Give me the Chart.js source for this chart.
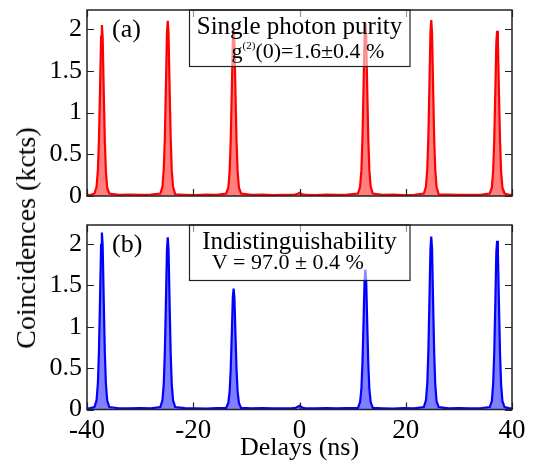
<!DOCTYPE html>
<html>
<head>
<meta charset="utf-8">
<script src="https://cdn.jsdelivr.net/npm/chart.js@4.4.1/dist/chart.umd.min.js"></script>
<style>
  body { margin: 0; background: #fff; width: 533px; height: 461px; position: relative; overflow: hidden; }
  canvas { position: absolute; left: 0; }
  #chart-a { top: 0; }
  #chart-b { top: 215px; }
  #ylabel {
    position: absolute; left: 26px; top: 238px;
    transform: translate(-50%, -50%) rotate(-90deg);
    font: 28px "Liberation Serif", serif; white-space: nowrap; color: #000;
  }
</style>
</head>
<body>
<canvas id="chart-a" width="533" height="215"></canvas>
<canvas id="chart-b" width="533" height="252"></canvas>
<div id="ylabel">Coincidences (kcts)</div>
<script>
// delay axis (ns), shared by both histograms
const delays = [
  -40, -39.4,
  -38.6, -38.2, -37.95, -37.75, -37.55, -37.35, -37.2, -37.05, -36.85, -36.65, -36.45, -36.2, -35.8,
  -34, -32, -30, -28,
  -26.2, -25.8, -25.55, -25.35, -25.15, -24.95, -24.8, -24.65, -24.45, -24.25, -24.05, -23.8, -23.4,
  -21.6, -19.6, -17.6, -15.6,
  -13.8, -13.4, -13.15, -12.95, -12.75, -12.55, -12.4, -12.25, -12.05, -11.85, -11.65, -11.4, -11.0,
  -9, -7, -5, -3,
  -1.4, -1.0, -0.75, -0.55, -0.35, -0.15, 0, 0.15, 0.35, 0.55, 0.75, 1.0, 1.4,
  3, 5, 7, 9,
  11.0, 11.4, 11.65, 11.85, 12.05, 12.25, 12.4, 12.55, 12.75, 12.95, 13.15, 13.4, 13.8,
  15.6, 17.6, 19.6, 21.6,
  23.4, 23.8, 24.05, 24.25, 24.45, 24.65, 24.8, 24.95, 25.15, 25.35, 25.55, 25.8, 26.2,
  28, 30, 32, 34,
  35.8, 36.2, 36.45, 36.65, 36.85, 37.05, 37.2, 37.35, 37.55, 37.75, 37.95, 38.2, 38.6,
  39.4, 40
];

// (a) single photon purity, kcts
const countsA = [
  0.015, 0.012,
  0.03, 0.11, 0.31, 0.68, 1.27, 1.91, 2.05, 1.90, 1.26, 0.67, 0.30, 0.10, 0.03,
  0.014, 0.018, 0.013, 0.016,
  0.03, 0.11, 0.32, 0.69, 1.30, 1.95, 2.10, 1.94, 1.29, 0.70, 0.31, 0.11, 0.02,
  0.015, 0.012, 0.017, 0.014,
  0.03, 0.10, 0.30, 0.66, 1.24, 1.86, 2.00, 1.85, 1.23, 0.65, 0.30, 0.10, 0.03,
  0.013, 0.016, 0.012, 0.015,
  0.015, 0.016, 0.018, 0.022, 0.027, 0.033, 0.038, 0.032, 0.026, 0.021, 0.018, 0.016, 0.015,
  0.012, 0.016, 0.014, 0.017,
  0.03, 0.11, 0.31, 0.69, 1.29, 1.93, 2.08, 1.93, 1.28, 0.68, 0.31, 0.11, 0.03,
  0.014, 0.017, 0.012, 0.015,
  0.03, 0.11, 0.32, 0.70, 1.31, 1.96, 2.11, 1.95, 1.30, 0.69, 0.32, 0.11, 0.02,
  0.016, 0.013, 0.015, 0.014,
  0.03, 0.10, 0.30, 0.65, 1.23, 1.84, 1.98, 1.84, 1.22, 0.66, 0.29, 0.10, 0.03,
  0.015, 0.013
];

// (b) indistinguishability, kcts
const countsB = [
  0.014, 0.016,
  0.03, 0.11, 0.32, 0.71, 1.33, 1.99, 2.14, 1.98, 1.32, 0.70, 0.32, 0.11, 0.03,
  0.015, 0.013, 0.017, 0.014,
  0.03, 0.11, 0.31, 0.69, 1.29, 1.93, 2.08, 1.93, 1.28, 0.68, 0.31, 0.11, 0.03,
  0.016, 0.014, 0.012, 0.017,
  0.02, 0.08, 0.22, 0.48, 0.91, 1.36, 1.46, 1.35, 0.90, 0.48, 0.22, 0.08, 0.02,
  0.014, 0.016, 0.013, 0.015,
  0.016, 0.018, 0.021, 0.026, 0.032, 0.040, 0.045, 0.039, 0.031, 0.025, 0.020, 0.017, 0.015,
  0.013, 0.017, 0.014, 0.016,
  0.02, 0.09, 0.25, 0.56, 1.05, 1.57, 1.69, 1.57, 1.04, 0.55, 0.25, 0.09, 0.02,
  0.015, 0.012, 0.016, 0.014,
  0.03, 0.11, 0.31, 0.69, 1.30, 1.94, 2.09, 1.94, 1.29, 0.69, 0.31, 0.10, 0.03,
  0.014, 0.017, 0.013, 0.015,
  0.03, 0.10, 0.31, 0.67, 1.26, 1.90, 2.04, 1.89, 1.26, 0.67, 0.30, 0.10, 0.03,
  0.016, 0.014
];

const xTicks = [-40, -20, 0, 20, 40];
const yTicks = [0, 0.5, 1, 1.5, 2];

const serif = '"Liberation Serif", "Times New Roman", serif';

// frame, inward ticks, panel tag and the text box
const panelPlugin = {
  id: 'panel',
  afterDatasetsDraw(chart, args, opts) {
    const { ctx, chartArea: a, scales } = chart;
    const x = scales.x, y = scales.y;
    ctx.save();
    ctx.strokeStyle = '#222';
    ctx.lineWidth = 1.5;
    ctx.strokeRect(a.left, a.top, a.right - a.left, a.bottom - a.top);
    ctx.lineWidth = 1.2;
    ctx.beginPath();
    xTicks.forEach(v => {
      const px = Math.round(x.getPixelForValue(v)) + 0.5;
      ctx.moveTo(px, a.bottom); ctx.lineTo(px, a.bottom - 7);
      ctx.moveTo(px, a.top); ctx.lineTo(px, a.top + 7);
    });
    yTicks.forEach(v => {
      const py = Math.round(y.getPixelForValue(v)) + 0.5;
      ctx.moveTo(a.left, py); ctx.lineTo(a.left + 7, py);
      ctx.moveTo(a.right, py); ctx.lineTo(a.right - 7, py);
    });
    ctx.stroke();

    // text box, half transparent over the peaks
    const bx0 = Math.round(x.getPixelForValue(opts.box[0])) + 0.5;
    const bx1 = Math.round(x.getPixelForValue(opts.box[1]));
    const by1 = Math.round(y.getPixelForValue(opts.box[2])) + 0.5;
    ctx.fillStyle = 'rgba(255,255,255,0.55)';
    ctx.fillRect(bx0, a.top + 1, bx1 - bx0, by1 - a.top - 1);
    ctx.strokeStyle = '#222';
    ctx.lineWidth = 1.2;
    ctx.strokeRect(bx0, a.top, bx1 - bx0, by1 - a.top);

    ctx.fillStyle = '#000';
    ctx.textBaseline = 'alphabetic';
    ctx.textAlign = 'left';
    ctx.font = '26px ' + serif;
    ctx.fillText(opts.tag, a.left + 25, a.top + 27);

    opts.lines.forEach(line => {
      let w = 0;
      line.parts.forEach(p => { ctx.font = p[1] + 'px ' + serif; w += ctx.measureText(p[0]).width; });
      let cx = x.getPixelForValue(line.x) - w / 2;
      line.parts.forEach(p => {
        ctx.font = p[1] + 'px ' + serif;
        ctx.fillText(p[0], cx, a.top + line.dy + p[2]);
        cx += ctx.measureText(p[0]).width;
      });
    });
    ctx.restore();
  }
};

const makePanel = (id, counts, line, fill, showX, panelOpts, padding) => {
  const points = delays.map((d, i) => ({ x: d, y: counts[i] }));
  const options = {
    type: 'line',
    data: {
      datasets: [{
        data: points,
        borderColor: line,
        backgroundColor: fill,
        borderWidth: 2.2,
        pointRadius: 0,
        tension: 0,
        fill: 'origin'
      }]
    },
    options: {
      responsive: false,
      animation: false,
      devicePixelRatio: 1,
      layout: { padding: padding },
      plugins: { legend: { display: false }, tooltip: { enabled: false }, panel: panelOpts },
      scales: {
        x: {
          type: 'linear', min: -40, max: 40,
          display: showX,
          afterFit: s => { s.height = showX ? 57.5 : 0 },
          ticks: {
            stepSize: 20, autoSkip: false, maxRotation: 0, padding: 5, color: '#000',
            font: { family: serif, size: 27 }
          },
          grid: { display: false, drawTicks: false },
          border: { display: false },
          title: {
            display: true, text: 'Delays (ns)', color: '#000',
            font: { family: serif, size: 26 }, padding: { top: 0, bottom: 3 }
          }
        },
        y: {
          min: 0, max: 2.23,
          afterFit: s => { s.width = 87; s.paddingTop = 0; s.paddingBottom = 0; },
          ticks: {
            stepSize: 0.5, includeBounds: false, autoSkip: false, padding: 5, color: '#000',
            font: { family: serif, size: 26 },
            callback: v => String(v)
          },
          grid: { display: false, drawTicks: false },
          border: { display: false }
        }
      }
    },
    plugins: [panelPlugin]
  };
  const canvas = document.getElementById(id).getContext('2d');
  new Chart(canvas, options);
};

makePanel('chart-a', countsA, '#ff0000', 'rgba(255,0,0,0.5)', false, {
  tag: '(a)',
  box: [-20.8, 20.8, 1.56],
  lines: [
    { parts: [['Single photon purity', 25, 0]], x: 0, dy: 23.5 },
    { parts: [['g', 22, 0], ['(2)', 11, -9], ['(0)=1.6\u00b10.4 %', 22, 0]], x: 1.6, dy: 47.5 }
  ]
}, { top: 10, right: 21, bottom: 19, left: 0 });

makePanel('chart-b', countsB, '#0000ff', 'rgba(0,0,255,0.5)', true, {
  tag: '(b)',
  box: [-20.8, 20.8, 1.57],
  lines: [
    { parts: [['Indistinguishability', 25, 0]], x: 0, dy: 24.3 },
    { parts: [['V = 97.0 \u00b1 0.4 %', 22, 0]], x: -2.2, dy: 43.5 }
  ]
}, { top: 10, right: 21, bottom: 0, left: 0 });
</script>
</body>
</html>
